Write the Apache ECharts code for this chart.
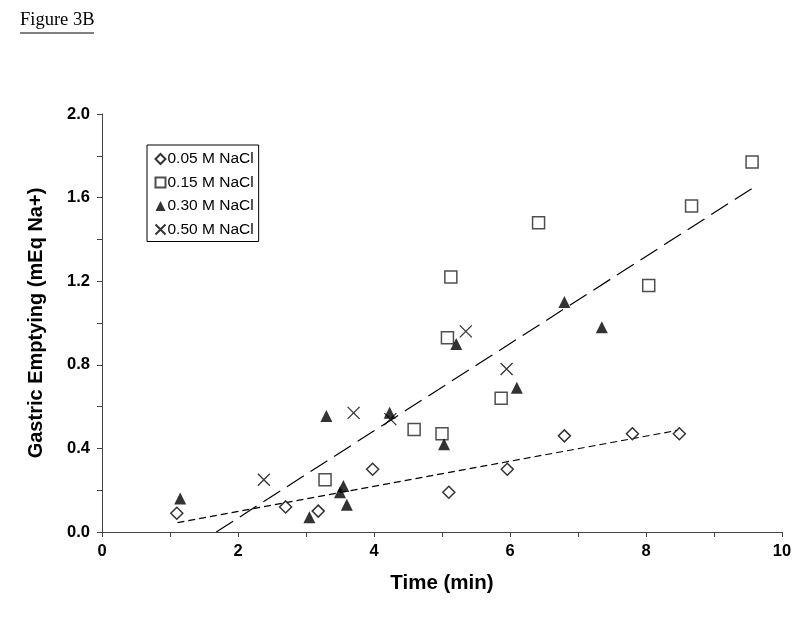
<!DOCTYPE html>
<html><head><meta charset="utf-8">
<script src="https://cdn.jsdelivr.net/npm/echarts@6/dist/echarts.min.js"></script>
<style>html,body{margin:0;padding:0;background:#fff}#c{width:800px;height:618px}</style>
</head><body><div id="c"></div>
<script>
const seriesNames = ['0.05 M NaCl', '0.15 M NaCl', '0.30 M NaCl', '0.50 M NaCl'];
const nacl005 = [[1.10,0.09],[2.70,0.12],[3.18,0.10],[3.98,0.30],[5.10,0.19],[5.96,0.30],[6.80,0.46],[7.80,0.47],[8.49,0.47]];
const nacl015 = [[3.28,0.25],[4.59,0.49],[5.00,0.47],[5.08,0.93],[5.13,1.22],[5.87,0.64],[6.42,1.48],[8.04,1.18],[8.67,1.56],[9.56,1.77]];
const nacl030 = [[1.15,0.16],[3.05,0.07],[3.30,0.555],[3.50,0.19],[3.55,0.22],[3.60,0.13],[4.23,0.57],[5.03,0.42],[5.21,0.90],[6.10,0.69],[6.80,1.10],[7.35,0.98]];
const nacl050 = [[2.38,0.25],[3.70,0.57],[4.24,0.54],[5.35,0.96],[5.95,0.78]];
const trendLow = [[1.11,0.045],[8.49,0.488]];
const trendHigh = [[1.68,0.0],[9.56,1.644]];
const yTicks = [0, 0.4, 0.8, 1.2, 1.6, 2.0];
const xTicks = [0, 2, 4, 6, 8, 10];

const crossPath = 'path://M0,0L10,10M10,0L0,10';
const chart = echarts.init(document.getElementById('c'), null, {renderer: 'canvas'});
const sans = 'Liberation Sans, Arial, sans-serif';
chart.setOption({
  animation: false,
  backgroundColor: '#fff',
  graphic: [
    {type: 'text', left: 20, top: 11, style: {text: 'Figure 3B', font: '18.5px "Liberation Serif", "Times New Roman", serif', fill: '#000'}},
    {type: 'line', shape: {x1: 20, y1: 33, x2: 94, y2: 33}, style: {stroke: '#000', lineWidth: 1}}
  ],
  legend: {
    orient: 'vertical', left: 147, top: 145,
    data: seriesNames,
    itemWidth: 10, itemHeight: 10, itemGap: 7.5,
    padding: [6, 5, 4, 6],
    borderColor: '#000', borderWidth: 1, borderRadius: 0,
    textStyle: {fontFamily: sans, fontSize: 15.5, lineHeight: 15, color: '#000', padding: [0, 0, 0, -3]}
  },
  grid: {left: 102, right: 18, top: 114, bottom: 86, containLabel: false},
  xAxis: {
    type: 'value', min: 0, max: 10, interval: 2,
    name: 'Time (min)', nameLocation: 'middle', nameGap: 41,
    nameTextStyle: {fontFamily: sans, fontWeight: 'bold', fontSize: 20.5, color: '#000'},
    axisLine: {show: true, onZero: false, lineStyle: {color: '#444', width: 1}},
    axisTick: {show: true, length: 5, inside: false, lineStyle: {color: '#444'}},
    minorTick: {show: true, splitNumber: 2, length: 5, lineStyle: {color: '#444'}},
    splitLine: {show: false},
    axisLabel: {margin: 11, fontFamily: sans, fontWeight: 'bold', fontSize: 16.5, color: '#000',
      formatter: v => xTicks.includes(v) ? String(v) : ''}
  },
  yAxis: {
    type: 'value', min: 0, max: 2, interval: 0.4,
    name: 'Gastric Emptying (mEq Na+)', nameLocation: 'middle', nameGap: 56, nameRotate: 90,
    nameTextStyle: {fontFamily: sans, fontWeight: 'bold', fontSize: 20, color: '#000'},
    axisLine: {show: true, onZero: false, lineStyle: {color: '#444', width: 1}},
    axisTick: {show: true, length: 5, inside: false, lineStyle: {color: '#444'}},
    minorTick: {show: true, splitNumber: 2, length: 5, lineStyle: {color: '#444'}},
    splitLine: {show: false},
    axisLabel: {margin: 12, fontFamily: sans, fontWeight: 'bold', fontSize: 16.5, color: '#000',
      formatter: v => yTicks.some(t => Math.abs(t - v) < 1e-9) ? v.toFixed(1) : ''}
  },
  series: [
    {name: seriesNames[0], type: 'scatter', data: nacl005, symbol: 'diamond', symbolSize: [12, 12], itemStyle: {color: '#fff', borderColor: '#000', borderWidth: 1.5}, z: 3},
    {name: seriesNames[1], type: 'scatter', data: nacl015, symbol: 'rect', symbolSize: 12, itemStyle: {color: '#fff', borderColor: '#222', borderWidth: 1.5}, z: 3},
    {name: seriesNames[2], type: 'scatter', data: nacl030, symbol: 'triangle', symbolSize: [12, 12], itemStyle: {color: '#000'}, z: 4},
    {name: seriesNames[3], type: 'scatter', data: nacl050, symbol: crossPath, symbolSize: 12, itemStyle: {color: 'none', borderColor: '#000', borderWidth: 1.3}, z: 4},
    {type: 'line', data: trendLow, symbol: 'none', silent: true, z: 2,
      lineStyle: {color: '#000', width: 1.2, type: [7, 4]}},
    {type: 'line', data: trendHigh, symbol: 'none', silent: true, z: 2,
      lineStyle: {color: '#000', width: 1.2, type: [20, 8]}}
  ]
});
</script></body></html>
